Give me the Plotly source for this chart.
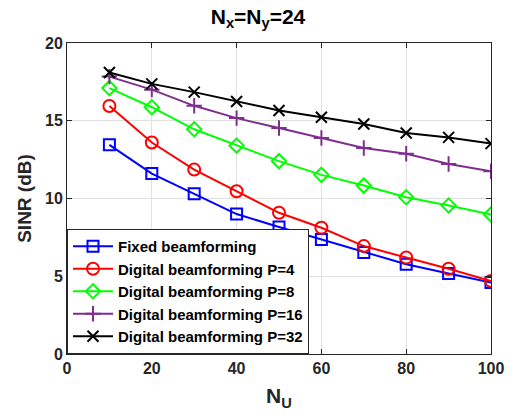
import plotly.graph_objects as go

nu = [10, 20, 30, 40, 50, 60, 70, 80, 90, 100]
fixed_bf = [13.45, 11.6, 10.3, 9.0, 8.17, 7.37, 6.53, 5.77, 5.18, 4.6]
digital_p4 = [15.95, 13.6, 11.86, 10.47, 9.08, 8.12, 6.94, 6.2, 5.48, 4.7]
digital_p8 = [17.1, 15.87, 14.45, 13.4, 12.4, 11.52, 10.83, 10.08, 9.55, 8.97]
digital_p16 = [17.84, 17.0, 15.96, 15.17, 14.53, 13.89, 13.25, 12.88, 12.22, 11.75]
digital_p32 = [18.1, 17.37, 16.84, 16.24, 15.66, 15.23, 14.79, 14.21, 13.93, 13.53]

series = [
    ("Fixed beamforming", fixed_bf, "#0000FF", "square-open"),
    ("Digital beamforming P=4", digital_p4, "#FF0000", "circle-open"),
    ("Digital beamforming P=8", digital_p8, "#00FF00", "diamond-open"),
    ("Digital beamforming P=16", digital_p16, "#7E2F8E", "cross-thin-open"),
    ("Digital beamforming P=32", digital_p32, "#000000", "x-thin-open"),
]

font_family = "Liberation Sans, Arial, sans-serif"

fig = go.Figure()
for name, vals, color, sym in series:
    fig.add_trace(go.Scatter(
        x=nu, y=vals, name=name, mode="lines+markers",
        line=dict(color=color, width=2),
        marker=dict(symbol=sym, size=12 if "circle" in sym else 11,
                    color=color, line=dict(color=color, width=2)),
    ))

axis_common = dict(
    showline=True, linecolor="#262626", linewidth=1, mirror="ticks",
    ticks="inside", ticklen=5, tickcolor="#262626",
    showgrid=True, gridcolor="#E0E0E0", gridwidth=1,
    zeroline=False,
    tickfont=dict(family=font_family, size=16, color="#262626", weight="bold"),
)

fig.update_layout(
    width=516, height=416,
    margin=dict(l=67, r=16, t=43, b=61),
    paper_bgcolor="white", plot_bgcolor="white",
    font=dict(family=font_family, color="#262626"),
    title=dict(text="<b>N<sub>x</sub>=N<sub>y</sub>=24</b>", x=0.5, xanchor="center",
               y=0.978, yanchor="top", font=dict(family=font_family, size=21, color="#000000")),
    xaxis=dict(range=[0, 100], tickvals=[0, 20, 40, 60, 80, 100],
               title=dict(text="<b>N<sub>U</sub></b>", font=dict(size=21, color="#262626"), standoff=12),
               **axis_common),
    yaxis=dict(range=[0, 20], tickvals=[0, 5, 10, 15, 20],
               title=dict(text="<b>SINR (dB)</b>", font=dict(size=19, color="#262626"), standoff=8),
               **axis_common),
    legend=dict(x=0, y=0, xanchor="left", yanchor="bottom",
                bgcolor="white", bordercolor="#262626", borderwidth=1,
                font=dict(family=font_family, size=15, color="#000000", weight="bold"),
                tracegroupgap=0, itemwidth=40),
    showlegend=True,
)

fig.write_html("out.html")
